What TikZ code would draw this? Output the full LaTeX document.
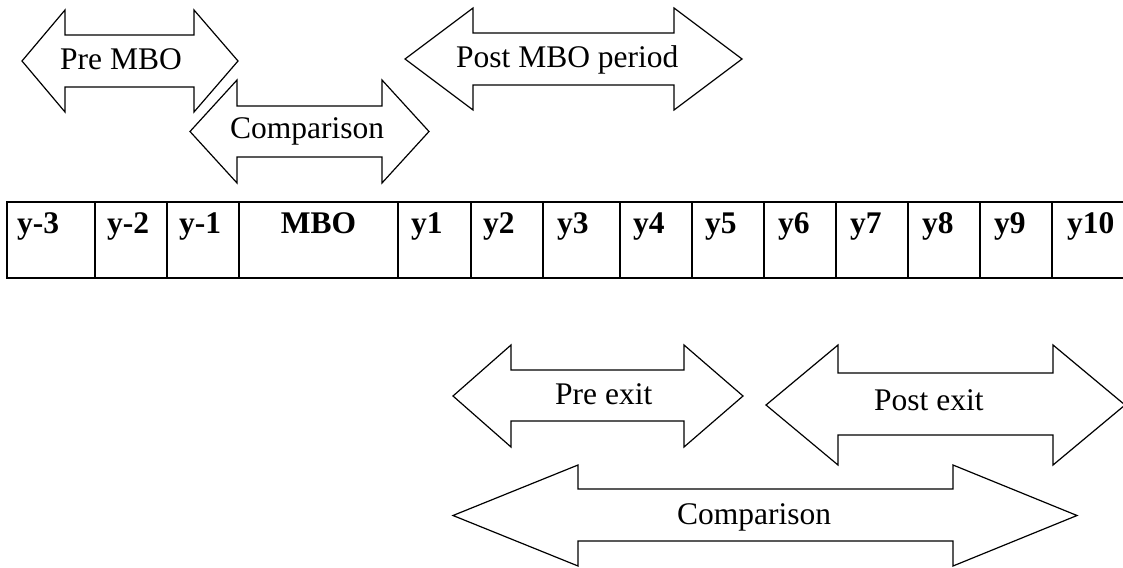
\documentclass[tikz,border=0pt]{standalone}
\usepackage{fontspec}
\setmainfont{Liberation Serif}
\usetikzlibrary{calc}
\tikzset{
  blockarrow/.style={draw=black, line width=1.2pt, line join=miter},
  lbl/.style={inner sep=0pt, font=\fontsize{31.5}{36}\selectfont},
  cell/.style={draw=black, line width=2pt, rectangle, inner sep=0pt, minimum height=76pt, anchor=north west},
  celltext/.style={inner sep=0pt, font=\fontsize{31.5}{36}\selectfont\bfseries},
}
% #1 left tip x, #2 left head base x, #3 right head base x, #4 right tip x,
% #5 head top y, #6 shaft top y, #7 shaft bottom y, #8 head bottom y
\newcommand\mydblarrow[8]{%
  \draw[blockarrow] (#1,{(#5+#8)/2}) -- (#2,#5) -- (#2,#6) -- (#3,#6) -- (#3,#5)
    -- (#4,{(#5+#8)/2}) -- (#3,#8) -- (#3,#7) -- (#2,#7) -- (#2,#8) -- cycle;}
\begin{document}
\begin{tikzpicture}[x=1pt,y=-1pt]
\useasboundingbox (0,0) rectangle (1123,567);

% upper arrows
\mydblarrow{22}{65}{194}{238}{10}{35}{87}{112}
\node[lbl, anchor=base west] (premboT) at (60,70) {Pre MBO};
\mydblarrow{190}{237}{382}{429}{80}{106}{157}{183}
\node[lbl, anchor=base west] (compT) at (230,139) {Comparison};
\mydblarrow{405}{473}{674}{742}{8}{33}{85}{110}
\node[lbl, anchor=base west] (postmboT) at (456,68) {Post MBO period};

% timeline table
\node[cell, minimum width=88pt]  (c1)  at (6,201) {};
\node[cell, minimum width=72pt]  (c2)  at (94,201) {};
\node[cell, minimum width=72pt]  (c3)  at (166,201) {};
\node[cell, minimum width=159pt] (c4)  at (238,201) {};
\node[cell, minimum width=73pt]  (c5)  at (397,201) {};
\node[cell, minimum width=72pt]  (c6)  at (470,201) {};
\node[cell, minimum width=77pt]  (c7)  at (542,201) {};
\node[cell, minimum width=72pt]  (c8)  at (619,201) {};
\node[cell, minimum width=72pt]  (c9)  at (691,201) {};
\node[cell, minimum width=72pt]  (c10) at (763,201) {};
\node[cell, minimum width=72pt]  (c11) at (835,201) {};
\node[cell, minimum width=72pt]  (c12) at (907,201) {};
\node[cell, minimum width=72pt]  (c13) at (979,201) {};
\node[cell, minimum width=76pt]  (c14) at (1051,201) {};

\node[celltext, anchor=base west] (t1)  at ($(c1.north west)+(11,32)$) {y-3};
\node[celltext, anchor=base west] (t2)  at ($(c2.north west)+(13,32)$) {y-2};
\node[celltext, anchor=base west] (t3)  at ($(c3.north west)+(13,32)$) {y-1};
\node[celltext, anchor=base]      (t4)  at ($(c4.north)+(0,32)$) {MBO};
\node[celltext, anchor=base west] (t5)  at ($(c5.north west)+(14,32)$) {y1};
\node[celltext, anchor=base west] (t6)  at ($(c6.north west)+(13,32)$) {y2};
\node[celltext, anchor=base west] (t7)  at ($(c7.north west)+(15,32)$) {y3};
\node[celltext, anchor=base west] (t8)  at ($(c8.north west)+(14,32)$) {y4};
\node[celltext, anchor=base west] (t9)  at ($(c9.north west)+(14,32)$) {y5};
\node[celltext, anchor=base west] (t10) at ($(c10.north west)+(15,32)$) {y6};
\node[celltext, anchor=base west] (t11) at ($(c11.north west)+(15,32)$) {y7};
\node[celltext, anchor=base west] (t12) at ($(c12.north west)+(15,32)$) {y8};
\node[celltext, anchor=base west] (t13) at ($(c13.north west)+(15,32)$) {y9};
\node[celltext, anchor=base west] (t14) at ($(c14.north west)+(16,32)$) {y10};

% lower arrows
\mydblarrow{453}{511}{684}{743}{345}{370}{421}{447}
\node[lbl, anchor=base west] (preexitT) at (555,404) {Pre exit};
\mydblarrow{766}{838}{1053}{1125}{345}{373}{435}{465}
\node[lbl, anchor=base west] (postexitT) at (874,410) {Post exit};
\mydblarrow{453}{578}{953}{1077}{465}{489}{541}{566}
\node[lbl, anchor=base west] (compB) at (677,524) {Comparison};
\end{tikzpicture}
\end{document}
